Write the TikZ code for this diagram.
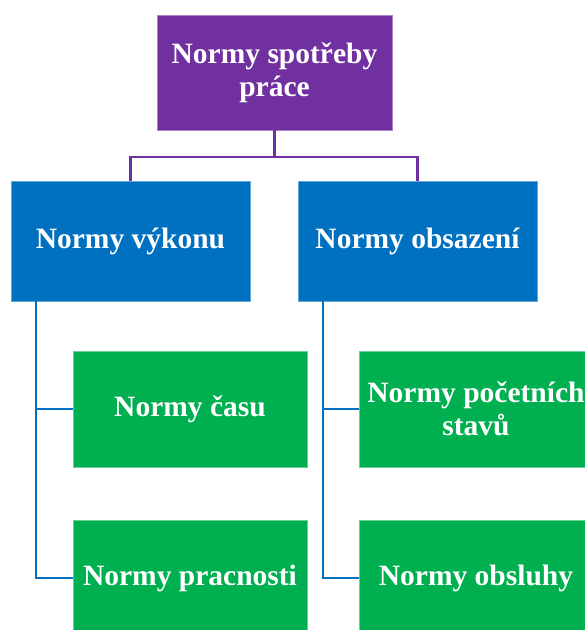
\documentclass[tikz,border=0pt]{standalone}
\usepackage{fontspec}
\setmainfont{Liberation Serif}
\definecolor{cpurple}{HTML}{7030A0}
\definecolor{cblue}{HTML}{0070C0}
\definecolor{cgreen}{HTML}{00B050}
\tikzset{
  box/.style={rectangle, inner sep=0pt, outer sep=0pt, align=center,
    text=white, font=\fontsize{29.5}{33}\selectfont\bfseries, line width=0.6pt},
  topbox/.style={box, fill=cpurple, draw=cpurple!60!white,
    minimum width=235pt, minimum height=115pt},
  midbox/.style={box, fill=cblue, draw=cblue!60!white,
    minimum width=239pt, minimum height=120pt},
  leafbox/.style={box, fill=cgreen, draw=cgreen!60!white,
    minimum width=234pt, minimum height=116pt},
  purpleline/.style={draw=cpurple, line width=2.6pt},
  blueline/.style={draw=cblue, line width=2.6pt},
}
\begin{document}
\begin{tikzpicture}[x=1pt, y=-1pt]
\useasboundingbox (0,0) rectangle (585,630);
\clip (0,0) rectangle (585,630);

% top level
\node[topbox] (top) at (274.5,72.5) {Normy spotřeby\\práce};

% second level
\node[midbox] (vykon) at (130.5,241) {Normy výkonu};
\node[midbox] (obsaz) at (417.5,241) {Normy obsazení};

% leaves
\node[leafbox] (cas)    at (190,409) {Normy času};
\node[leafbox] (pracn)  at (190,578) {Normy pracnosti};
\node[leafbox] (stavy)  at (476,409) {Normy početních\\stavů};
\node[leafbox] (obsl)   at (476,578) {Normy obsluhy};

% purple tree lines
\draw[purpleline] (top.south) -- ++(0,27) coordinate (fork) -| (vykon.north);
\draw[purpleline] (fork) -| (obsaz.north);

% blue side lines
\draw[blueline] ([xshift=25pt]vykon.south west) |- (cas.west);
\draw[blueline] ([xshift=25pt]vykon.south west) |- (pracn.west);
\draw[blueline] ([xshift=25pt]obsaz.south west) |- (stavy.west);
\draw[blueline] ([xshift=25pt]obsaz.south west) |- (obsl.west);
\end{tikzpicture}
\end{document}
